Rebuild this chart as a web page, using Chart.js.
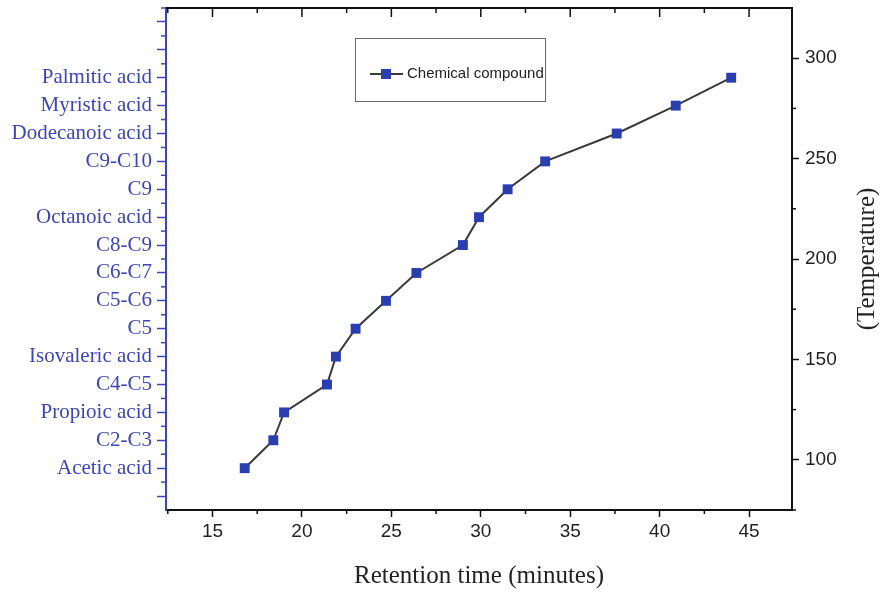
<!DOCTYPE html>
<html>
<head>
<meta charset="utf-8">
<script src="https://cdn.jsdelivr.net/npm/chart.js@4.4.1/dist/chart.umd.min.js"></script>
<style>
    html, body { margin: 0; padding: 0; background: #fff; }
    #wrap { width: 880px; height: 593px; position: relative; }
</style>
</head>
<body>
<div id="wrap"><canvas id="chart"></canvas></div>
<script>
// compounds from bottom (index 1) to top (index 15)
const compounds = [
    'Acetic acid', 'C2-C3', 'Propioic acid', 'C4-C5', 'Isovaleric acid',
    'C5', 'C5-C6', 'C6-C7', 'C8-C9', 'Octanoic acid',
    'C9', 'C9-C10', 'Dodecanoic acid', 'Myristic acid', 'Palmitic acid'
];
const retentionTimes = [16.8, 18.4, 19.0, 21.4, 21.9, 23.0, 24.7, 26.4, 29.0, 29.9, 31.5, 33.6, 37.6, 40.9, 44.0];

const timeTicks = [15, 20, 25, 30, 35, 40, 45];
const tempTicks = [100, 150, 200, 250, 300];
const compoundTicks = [0, 1, 2, 3, 4, 5, 6, 7, 8, 9, 10, 11, 12, 13, 14, 15, 16, 17];

const BLUE = '#3c46b4';
const MARKER = '#2b3eb0';
const LINE = '#3a3a3a';

const points = retentionTimes.map((t, i) => ({x: t, y: i + 1}));

const setTicks = (values) => (scale) => {
    scale.ticks = values.map(v => ({value: v}));
};

// fixed axis sizes, no extra room for edge labels
const fixSize = (w, h) => (scale) => {
    if (w !== null) scale.width = w;
    if (h !== null) scale.height = h;
    scale.paddingTop = 0;
    scale.paddingBottom = 0;
    scale.paddingLeft = 0;
    scale.paddingRight = 0;
};

// minor ticks, top frame, right title and legend box
const framePlugin = {
    id: 'frame',
    afterDraw(chart) {
        const {ctx, chartArea: a, scales} = chart;
        const x = scales.x, y = scales.y, y2 = scales.y2;
        const seg = (x1, y1, x2, y2_) => {
            ctx.beginPath();
            ctx.moveTo(x1, y1);
            ctx.lineTo(x2, y2_);
            ctx.stroke();
        };
        ctx.save();

        // top border
        ctx.strokeStyle = '#111';
        ctx.lineWidth = 2;
        seg(a.left, a.top, a.right + 1, a.top);

        ctx.lineWidth = 1.5;
        // x axis: minor ticks bottom, ticks top (inward)
        timeTicks.forEach(v => {
            const px = x.getPixelForValue(v);
            seg(px, a.top, px, a.top + 9);
            const m = v + 2.5;
            if (m <= x.max) {
                const pm = x.getPixelForValue(m);
                seg(pm, a.bottom, pm, a.bottom + 4);
                seg(pm, a.top, pm, a.top + 5);
            }
        });
        const first = x.getPixelForValue(12.5);
        seg(first, a.bottom, first, a.bottom + 4);
        seg(first, a.top, first, a.top + 5);

        // right axis minor ticks
        [75, 125, 175, 225, 275].forEach(v => {
            const py = y2.getPixelForValue(v);
            seg(a.right, py, a.right + 4, py);
        });

        // left axis minor ticks
        ctx.strokeStyle = BLUE;
        compoundTicks.forEach(v => {
            const py = y.getPixelForValue(v + 0.5);
            if (v + 0.5 <= y.max) seg(a.left, py, a.left - 5, py);
        });

        // right axis title, reading bottom to top
        ctx.fillStyle = '#222';
        ctx.font = '25px "Liberation Serif", "Times New Roman", serif';
        ctx.textAlign = 'center';
        ctx.textBaseline = 'middle';
        ctx.translate(867, (a.top + a.bottom) / 2);
        ctx.rotate(-Math.PI / 2);
        ctx.fillText('(Temperature)', 0, 0);
        ctx.restore();

        // legend
        const ds = chart.data.datasets[0];
        const lx = a.left + 189, ly = a.top + 30;
        ctx.save();
        ctx.strokeStyle = '#6a6a6a';
        ctx.lineWidth = 1;
        ctx.strokeRect(lx + 0.5, ly + 0.5, 190, 63);
        ctx.strokeStyle = ds.borderColor;
        ctx.lineWidth = 2;
        seg(lx + 15, ly + 36, lx + 48, ly + 36);
        ctx.fillStyle = ds.pointBackgroundColor;
        ctx.fillRect(lx + 26, ly + 31, 10, 10);
        ctx.fillStyle = '#222';
        ctx.font = '15px "Liberation Sans", Arial, sans-serif';
        ctx.textAlign = 'left';
        ctx.textBaseline = 'middle';
        ctx.fillText(ds.label, lx + 52, ly + 36);
        ctx.restore();
    }
};

new Chart(document.getElementById('chart'), {
    type: 'line',
    data: {
        datasets: [{
            label: 'Chemical compound',
            data: points,
            yAxisID: 'y',
            borderColor: LINE,
            borderWidth: 2,
            pointStyle: 'rect',
            pointRadius: 7,
            pointBorderWidth: 0,
            pointBackgroundColor: MARKER,
            pointBorderColor: MARKER,
            tension: 0
        }]
    },
    options: {
        responsive: true,
        maintainAspectRatio: false,
        animation: false,
        layout: { padding: { top: 8, left: 0, right: 0, bottom: 0 } },
        plugins: {
            legend: { display: false },
            tooltip: { enabled: false }
        },
        scales: {
            x: {
                type: 'linear',
                position: 'bottom',
                min: 12.4,
                max: 47.4,
                afterBuildTicks: setTicks(timeTicks),
                afterFit: fixSize(null, 83),
                grid: { drawOnChartArea: false, tickLength: 7, tickColor: '#111', tickWidth: 1.5 },
                border: { color: '#111', width: 2 },
                ticks: {
                    padding: 3,
                    color: '#222',
                    maxRotation: 0,
                    font: { family: '"Liberation Sans", Arial, sans-serif', size: 19 }
                },
                title: {
                    display: true,
                    text: 'Retention time (minutes)',
                    color: '#222',
                    padding: { top: 0, bottom: 2 },
                    font: { family: '"Liberation Serif", "Times New Roman", serif', size: 25 }
                }
            },
            y: {
                type: 'linear',
                position: 'left',
                min: -0.5,
                max: 17.5,
                afterBuildTicks: setTicks(compoundTicks),
                afterFit: fixSize(166, null),
                grid: { drawOnChartArea: false, tickLength: 9, tickColor: BLUE, tickWidth: 1.5 },
                border: { color: BLUE, width: 2 },
                ticks: {
                    padding: 5,
                    color: BLUE,
                    autoSkip: false,
                    callback: (v) => compounds[v - 1] || '',
                    font: { family: '"Liberation Serif", "Times New Roman", serif', size: 21 }
                }
            },
            y2: {
                type: 'linear',
                position: 'right',
                min: 75,
                max: 325,
                afterBuildTicks: setTicks(tempTicks),
                afterFit: fixSize(88, null),
                grid: { drawOnChartArea: false, tickLength: 7, tickColor: '#111', tickWidth: 1.5 },
                border: { color: '#111', width: 2 },
                ticks: {
                    padding: 6,
                    color: '#222',
                    font: { family: '"Liberation Sans", Arial, sans-serif', size: 19 }
                }
            }
        }
    },
    plugins: [framePlugin]
});
</script>
</body>
</html>
